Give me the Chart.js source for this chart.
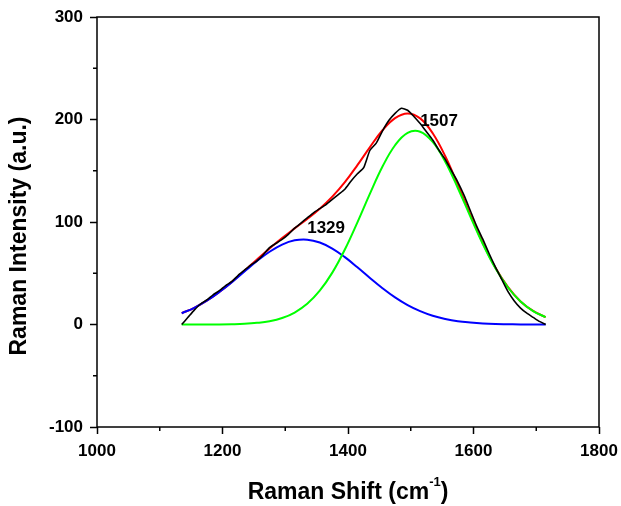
<!DOCTYPE html>
<html>
<head>
<meta charset="utf-8">
<script src="https://cdn.jsdelivr.net/npm/chart.js@4/dist/chart.umd.min.js"></script>
<style>
html,body{margin:0;padding:0;background:#fff;}
#wrap{width:621px;height:506px;position:relative;}
</style>
</head>
<body>
<div id="wrap"><canvas id="c" width="621" height="506"></canvas></div>
<script>
// ---- data ----
const xData = [1135,1145,1155,1165,1175,1185,1195,1205,1215,1225,1235,1245,1255,1265,1275,1285,1295,1305,1315,1325,1335,1345,1355,1365,1375,1385,1395,1405,1415,1425,1435,1445,1455,1465,1475,1485,1495,1505,1515,1525,1535,1545,1555,1565,1575,1585,1595,1605,1615,1625,1635,1645,1655,1665,1675,1685,1695,1705,1715];
const measured = [0,7,14,20,24,29,33,38,42,48,53,58,62,68,75,79,83,88,94,99,104,109,113,117,122,127,132,140,147,153,170,177,189,199,206,211,209,203,196,188,180,170,161,150,139,126,111,96,83,69,56,44,32,23,16,11,7,3,0];
const xFit = [1135,1155,1175,1195,1215,1235,1255,1275,1295,1315,1335,1355,1375,1395,1415,1435,1455,1475,1495,1515,1535,1555,1575,1595,1615,1635,1655,1675,1695,1715];
const peak1 = [11.0,16.3,23.2,31.7,41.3,51.7,61.9,71.0,78.0,82.1,82.8,80.0,74.1,65.7,55.8,45.4,35.4,26.4,18.9,13.0,8.5,5.4,3.2,1.9,1.0,0.5,0.3,0.1,0.1,0.0];
const peak2 = [0.0,0.0,0.05,0.1,0.3,0.7,1.6,3.2,6.3,11.7,20.2,33.0,50.6,73.2,99.7,127.7,154.1,174.9,187.0,188.1,178.1,158.8,133.2,105.3,78.3,54.8,36.1,22.4,13.1,7.2];
const fitSum = [11.0,16.3,23.3,31.8,41.6,52.4,63.5,74.2,84.3,93.8,103.0,113.0,124.7,138.9,155.5,173.1,189.5,201.3,205.9,201.1,186.6,164.2,136.4,107.2,79.3,55.3,36.4,22.5,13.2,7.2];
const peakLabels = ['1329','1507'];
const xTitle = 'Raman Shift (cm';
const xTitleSup = '-1';
const xTitleEnd = ')';
const yTitle = 'Raman Intensity (a.u.)';

const FONT = '"Liberation Sans", Arial, sans-serif';
const pts = (xs, ys) => xs.map((x, i) => ({x: x, y: ys[i]}));

const overlay = {
  id: 'overlay',
  afterDraw(chart) {
    const ctx = chart.ctx;
    const a = chart.chartArea;
    const xs = chart.scales.x, ys = chart.scales.y;
    ctx.save();
    ctx.strokeStyle = '#000';
    ctx.lineWidth = 1.5;
    ctx.strokeRect(a.left, a.top, a.right - a.left, a.bottom - a.top);
    ctx.beginPath();
    for (let v = xs.min + 100; v < xs.max; v += 200) {
      const px = xs.getPixelForValue(v);
      ctx.moveTo(px, a.bottom); ctx.lineTo(px, a.bottom + 4);
    }
    for (let v = ys.min + 50; v < ys.max; v += 100) {
      const py = ys.getPixelForValue(v);
      ctx.moveTo(a.left, py); ctx.lineTo(a.left - 4, py);
    }
    ctx.stroke();
    ctx.fillStyle = '#000';
    ctx.font = 'bold 17px ' + FONT;
    ctx.textAlign = 'left';
    ctx.textBaseline = 'middle';
    ctx.fillText(peakLabels[0], xs.getPixelForValue(1335), ys.getPixelForValue(94));
    ctx.fillText(peakLabels[1], xs.getPixelForValue(1515), ys.getPixelForValue(198.5));
    ctx.textBaseline = 'alphabetic';
    const big = 'bold 23px ' + FONT, small = 'bold 13px ' + FONT;
    ctx.font = big;
    const w1 = ctx.measureText(xTitle).width;
    const w3 = ctx.measureText(xTitleEnd).width;
    ctx.font = small;
    const w2 = ctx.measureText(xTitleSup).width;
    const total = w1 + w2 + w3;
    const x0 = (a.left + a.right) / 2 - total / 2;
    const base = 498.5;
    ctx.font = big;
    ctx.fillText(xTitle, x0, base);
    ctx.font = small;
    ctx.fillText(xTitleSup, x0 + w1, base - 13);
    ctx.font = big;
    ctx.fillText(xTitleEnd, x0 + w1 + w2, base);
    ctx.translate(26, 236);
    ctx.rotate(-Math.PI / 2);
    ctx.textAlign = 'center';
    ctx.fillText(yTitle, 0, 0);
    ctx.restore();
  }
};

new Chart(document.getElementById('c'), {
  type: 'line',
  data: {
    datasets: [
      {label: 'Measured', data: pts(xData, measured), borderColor: '#000000', borderWidth: 1.6, pointRadius: 0, tension: 0.2, fill: false},
      {label: 'Peak 1507', data: pts(xFit, peak2), borderColor: '#00ff00', borderWidth: 2, pointRadius: 0, tension: 0.4, fill: false},
      {label: 'Peak 1329', data: pts(xFit, peak1), borderColor: '#0000ff', borderWidth: 2, pointRadius: 0, tension: 0.4, fill: false},
      {label: 'Cumulative fit', data: pts(xFit, fitSum), borderColor: '#ff0000', borderWidth: 2, pointRadius: 0, tension: 0.4, fill: false}
    ]
  },
  options: {
    responsive: false,
    animation: false,
    layout: {padding: {top: 17, right: 22, left: 0, bottom: 0}},
    plugins: {legend: {display: false}, tooltip: {enabled: false}},
    scales: {
      x: {
        type: 'linear', min: 1000, max: 1800,
        ticks: {stepSize: 200, color: '#000', font: {family: FONT, size: 17, weight: 'bold'}, padding: 7, maxRotation: 0,
                callback: (v) => String(v)},
        grid: {drawOnChartArea: false, tickLength: 7, tickColor: '#000', tickWidth: 1.5},
        border: {display: false},
        afterFit(s) { s.height = 79; s.paddingLeft = 0; s.paddingRight = 0; }
      },
      y: {
        type: 'linear', min: -100, max: 300,
        ticks: {stepSize: 100, color: '#000', font: {family: FONT, size: 17, weight: 'bold'}, padding: 7,
                callback: (v) => String(v)},
        grid: {drawOnChartArea: false, tickLength: 7, tickColor: '#000', tickWidth: 1.5},
        border: {display: false},
        afterFit(s) { s.width = 97; s.paddingTop = 0; s.paddingBottom = 0; }
      }
    }
  },
  plugins: [overlay]
});
</script>
</body>
</html>
